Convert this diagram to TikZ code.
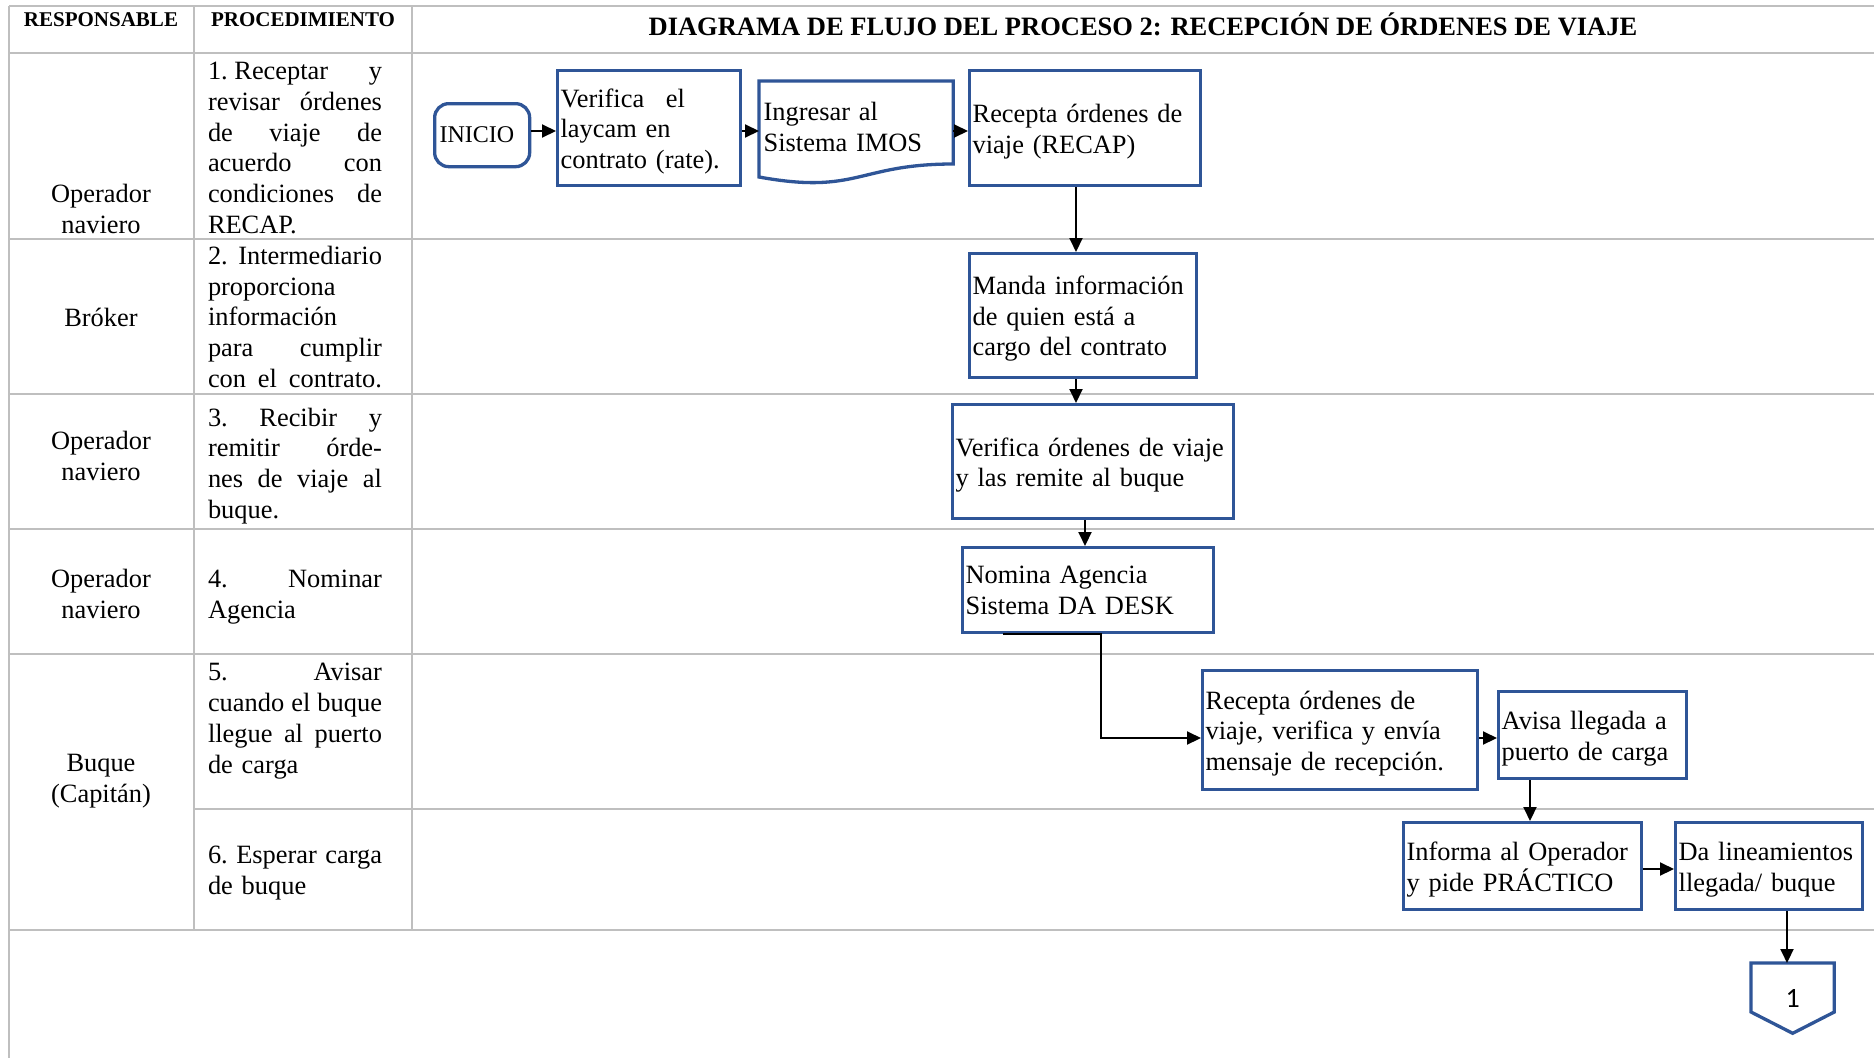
\documentclass[tikz,border=0pt]{standalone}
\usepackage{fontspec}
\setmainfont{Liberation Serif}
\newfontfamily\calibrifont{Carlito}
\usetikzlibrary{arrows.meta,calc}
\definecolor{boxblue}{RGB}{47,85,151}
\definecolor{gridgray}{RGB}{191,191,191}
\newcommand{\jl}[1]{\makebox[174pt][s]{\spaceskip=.25em plus 1fil\relax\xspaceskip=.25em plus 1fil\relax #1}}
\newcommand{\tst}{\rule{0pt}{25pt}}
\begin{document}
\begin{tikzpicture}[x=1pt,y=-1pt,
  grid/.style={draw=gridgray,line width=2.5pt},
  fbox/.style={draw=boxblue,line width=3.3pt,inner xsep=3pt,inner ysep=0pt,anchor=north west,align=left,font=\fontsize{26.4}{30.5}\selectfont},
  conn/.style={line width=2pt,-{Triangle[length=14pt,width=13pt]}},
  resp/.style={align=center,inner sep=0pt,font=\fontsize{26.4}{31}\selectfont},
  proc/.style={align=left,text width=174pt,inner sep=0pt,font=\fontsize{26.4}{30.8}\selectfont},
  head/.style={inner sep=0pt,font=\bfseries\fontsize{21}{24}\selectfont},
]
\useasboundingbox (0,0) rectangle (1874,1058);
\fill[white] (0,0) rectangle (1874,1058);
% grid
\draw[grid] (9,6) -- (1874,6);
\draw[grid] (9,53) -- (1874,53);
\draw[grid] (9,239) -- (1874,239);
\draw[grid] (9,394) -- (1874,394);
\draw[grid] (9,529) -- (1874,529);
\draw[grid] (9,654) -- (1874,654);
\draw[grid] (194,809) -- (1874,809);
\draw[grid] (9,930) -- (1874,930);
\draw[grid] (9,6) -- (9,1058);
\draw[grid] (194,6) -- (194,930);
\draw[grid] (412,6) -- (412,930);
% header
\node[head] (hresp) at (101,20) {RESPONSABLE};
\node[head] (hproc) at (303,20) {PROCEDIMIENTO};
\node[inner sep=0pt,font=\bfseries\fontsize{26.5}{30}\selectfont] (htitle) at (1143,24) {DIAGRAMA DE FLUJO DEL PROCESO 2: RECEPCIÓN DE ÓRDENES DE VIAJE};
% responsible
\node[resp] (r1) at (101,209) {Operador\\naviero};
\node[resp] (r2) at (101,317) {Bróker};
\node[resp] (r3) at (101,456) {Operador\\naviero};
\node[resp] (r4) at (101,594) {Operador\\naviero};
\node[resp] (r5) at (101,781) {Buque\\(Capitán)};
% procedures
\node[proc] (p1) at (295,148) {\jl{1.\hspace{.25em}Receptar y}\\\jl{revisar órdenes}\\\jl{de viaje de}\\\jl{acuerdo con}\\\jl{condiciones de}\\RECAP.};
\node[proc] (p2) at (295,317) {\jl{2. Intermediario}\\proporciona\\información\\\jl{para cumplir}\\\jl{con el contrato.}};
\node[proc] (p3) at (295,466) {\jl{3. Recibir y}\\\jl{remitir órde-}\\\jl{nes de viaje al}\\buque.};
\node[proc] (p4) at (295,597) {\jl{4. Nominar}\\Agencia};
\node[proc] (p5) at (295,721) {\jl{5. Avisar}\\\jl{cuando el buque}\\\jl{llegue al puerto}\\de carga};
\node[proc] (p6) at (295,873) {\jl{6. Esperar carga}\\de buque};
% flow boxes
\node[fbox,rounded corners=14pt,minimum width=95pt,minimum height=63pt,inner xsep=5pt,text width=85pt,font=\fontsize{24}{28}\selectfont] (inicio) at (433,102) {INICIO};
\node[fbox,minimum width=183pt,minimum height=115pt,text width=177pt] (verif) at (556,69) {\tst Verifica\hspace{13pt} el\\laycam en\\contrato (rate).};
\node[fbox,draw=none,minimum width=191pt,minimum height=89pt,text width=185pt] (imos) at (759,81) {Ingresar al\\Sistema IMOS};
\draw[boxblue,line width=3.3pt] (imos.north west) -- (imos.north east) -- ($(imos.north east)+(0,83)$) .. controls ($(imos.north east)+(-95.5,83)$) and ($(imos.north east)+(-95.5,114)$) .. ($(imos.north west)+(0,96)$) -- cycle;
\node[fbox,minimum width=231pt,minimum height=115pt,text width=225pt] (recap) at (968,69) {\tst Recepta órdenes de\\viaje (RECAP)};
\node[fbox,minimum width=227pt,minimum height=124pt,text width=221pt] (manda) at (968,252) {\tst Manda información\\de quien está a\\cargo del contrato};
\node[fbox,minimum width=281pt,minimum height=114pt,text width=275pt] (verif2) at (951,403) {\tst Verifica órdenes de viaje\\y las remite al buque};
\node[fbox,minimum width=251pt,minimum height=85pt,text width=245pt] (nomina) at (961,546) {Nomina Agencia\\Sistema DA DESK};
\node[fbox,minimum width=275pt,minimum height=119pt,text width=269pt] (recep2) at (1201,669) {\tst Recepta órdenes de\\viaje, verifica y envía\\mensaje de recepción.};
\node[fbox,minimum width=188pt,minimum height=87pt,text width=182pt] (avisa) at (1497,690) {\tst Avisa llegada a\\puerto de carga};
\node[fbox,minimum width=238pt,minimum height=87pt,text width=232pt] (informa) at (1402,821) {\tst Informa al Operador\\y pide PRÁCTICO};
\node[fbox,minimum width=187pt,minimum height=87pt,text width=181pt] (da) at (1674,821) {\tst Da lineamientos\\llegada/ buque};
\node[fbox,draw=none,minimum width=80pt,minimum height=67pt,align=center,font=\calibrifont\fontsize{28}{32}\selectfont] (pent) at (1751,963) {1};
\draw[boxblue,line width=3.3pt] (pent.north west) -- (pent.north east) -- ($(pent.north east)+(0,49)$) -- (pent.south) -- ($(pent.north west)+(0,49)$) -- cycle;
% connectors
\coordinate (row1y) at (0,131);
\coordinate (c1) at (1076,0);
\coordinate (c2) at (1085,0);
\coordinate (c3) at (1101,0);
\coordinate (c3b) at (1003,0);
\coordinate (r5y) at (0,738);
\coordinate (c4) at (1530,0);
\coordinate (r6y) at (0,869);
\coordinate (c5) at (1787,0);
\draw[conn] (inicio.east |- row1y) -- (verif.west |- row1y);
\draw[conn] (verif.east |- row1y) -- (imos.west |- row1y);
\draw[conn] (imos.east |- row1y) -- (recap.west |- row1y);
\draw[conn] (recap.south -| c1) -- (manda.north -| c1);
\draw[conn] (manda.south -| c1) -- (verif2.north -| c1);
\draw[conn] (verif2.south -| c2) -- (nomina.north -| c2);
\draw[conn] (nomina.south -| c3b) -- (nomina.south -| c3) -- (c3 |- r5y) -- (recep2.west |- r5y);
\draw[conn] (recep2.east |- r5y) -- (avisa.west |- r5y);
\draw[conn] (avisa.south -| c4) -- (informa.north -| c4);
\draw[conn] (informa.east |- r6y) -- (da.west |- r6y);
\draw[conn] (da.south -| c5) -- (pent.north -| c5);
\end{tikzpicture}
\end{document}
